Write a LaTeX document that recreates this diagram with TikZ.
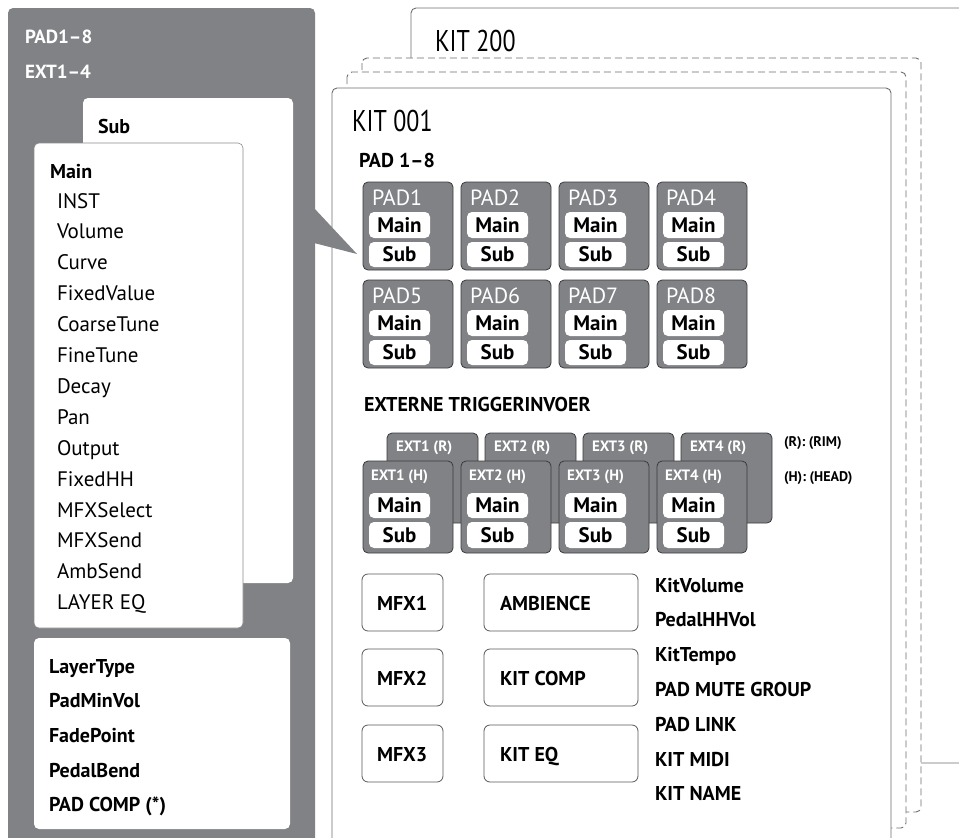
\documentclass[tikz,border=0pt]{standalone}
\usepackage{fontspec}
\setmainfont{PT Sans}
\usetikzlibrary{positioning}
\definecolor{panelgray}{HTML}{808285}
\definecolor{edgegray}{HTML}{6D6E71}
\definecolor{padedge}{HTML}{3A3A3C}
\newcommand{\fsz}[1]{\fontsize{#1}{#1}\selectfont}

\begin{document}
\begin{tikzpicture}[x=1pt,y=-1pt,
	every node/.style={inner sep=0pt,outer sep=0pt},
	kitbox/.style={draw=edgegray,fill=white,line width=0.9pt,rounded corners=5pt},
	kitdash/.style={kitbox,dash pattern=on 7pt off 4pt},
	padbox/.style={draw=padedge,fill=panelgray,line width=0.8pt,rounded corners=5pt},
	pill/.style={fill=white,rounded corners=5pt},
	fxbox/.style={draw=black!65,fill=white,line width=0.8pt,rounded corners=6pt},
	padlbl/.style={anchor=base west,text=white,font=\fsz{22}},
	extlbl/.style={anchor=base west,text=white,font=\fsz{15}\bfseries},
	pilllbl/.style={font=\fsz{21}\bfseries},
	item/.style={anchor=base west,font=\fsz{21}},
	bitem/.style={anchor=base west,font=\fsz{20}\bfseries},
]
\useasboundingbox (0,0) rectangle (959,838);
\clip (0,0) rectangle (959,838);

% kit pages, back to front
\filldraw[kitbox] (411,8) rectangle (1000,763);
\node[anchor=base west,font=\fsz{30}] (kit200) at (435,51) {\scalebox{0.8}[1]{KIT 200}};
\filldraw[kitdash] (362,58) rectangle (921,812);
\filldraw[kitdash] (347,72) rectangle (906,828);
\filldraw[kitbox] (332,88) rectangle (891,860);
\node[anchor=base west,font=\fsz{30}] (kit001) at (352,131) {\scalebox{0.8}[1]{KIT 001}};

% left panel with pointer
\fill[panelgray,rounded corners=5pt] (8,8) rectangle (315,860);
\fill[panelgray] (314,208) -- (357,254) -- (314,243) -- cycle;
\node[anchor=base west,text=white,font=\fsz{19}\bfseries] (padall) at (25,43) {PAD1--8};
\node[anchor=base west,text=white,font=\fsz{19}\bfseries] (extall) at (25,78) {EXT1--4};

\fill[white,rounded corners=5pt] (83,98) rectangle (293,583);
\node[bitem] (subhead) at (98,133) {Sub};
\filldraw[fill=white,draw=black!45,line width=0.6pt,rounded corners=5pt] (34,143) rectangle (243,628);
\node[bitem] (mainhead) at (50,178) {Main};
\foreach \t [count=\n from 0] in {INST,Volume,Curve,FixedValue,CoarseTune,FineTune,Decay,Pan,Output,FixedHH,MFXSelect,MFXSend,AmbSend,LAYER EQ}
	\node[item] (main\n) at (57,208+30.9*\n) {\t};

\fill[white,rounded corners=5pt] (34,638) rectangle (290,829);
\foreach \t [count=\n from 0] in {LayerType,PadMinVol,FadePoint,PedalBend,PAD COMP (*)}
	\node[bitem] (common\n) at (49,673+34.7*\n) {\t};

% pads
\node[bitem] (padtitle) at (359,167) {PAD 1--8};
\foreach \i in {1,...,8}{
	\pgfmathtruncatemacro\col{mod(\i-1,4)}
	\pgfmathtruncatemacro\row{(\i-1)/4}
	\coordinate (p\i) at (363+98*\col,182+98*\row);
	\filldraw[padbox] (p\i) rectangle ++(90,88);
	\node[padlbl] (pad\i) at ([shift={(9,23)}]p\i) {PAD\i};
	\fill[pill] ([shift={(6,30)}]p\i) rectangle ([shift={(67,56)}]p\i);
	\node[pilllbl] (pad\i main) at ([shift={(36.5,43)}]p\i) {Main};
	\fill[pill] ([shift={(6,60)}]p\i) rectangle ([shift={(67,85)}]p\i);
	\node[pilllbl] (pad\i sub) at ([shift={(36.5,72.5)}]p\i) {Sub};
}

% external triggers
\node[bitem] (exttitle) at (364,411) {EXTERNE TRIGGERINVOER};
\foreach \k in {1,...,4}{
	\coordinate (r\k) at (387+98*\k-98,433);
	\filldraw[padbox] (r\k) rectangle ++(91,90);
	\node[extlbl] (ext\k rim) at ([shift={(9,18)}]r\k) {EXT\k\ (R)};
}
\foreach \k in {1,...,4}{
	\coordinate (h\k) at (363+98*\k-98,461);
	\filldraw[padbox] (h\k) rectangle ++(90,92);
	\node[extlbl] (ext\k head) at ([shift={(8,19)}]h\k) {EXT\k\ (H)};
	\fill[pill] ([shift={(6,32)}]h\k) rectangle ([shift={(67,57)}]h\k);
	\node[pilllbl] (ext\k main) at ([shift={(36.5,44.5)}]h\k) {Main};
	\fill[pill] ([shift={(6,61)}]h\k) rectangle ([shift={(67,87)}]h\k);
	\node[pilllbl] (ext\k sub) at ([shift={(36.5,74)}]h\k) {Sub};
}
\node[anchor=base west,font=\fsz{14}\bfseries] (rimnote) at (784,446) {(R): (RIM)};
\node[anchor=base west,font=\fsz{14}\bfseries] (headnote) at (784,481) {(H): (HEAD)};

% effects and kit settings
\foreach \t/\y [count=\n] in {MFX1/574,MFX2/649,MFX3/725}{
	\filldraw[fxbox] (362,\y) rectangle (443,\y+57);
	\node[bitem] (mfx\n) at (377,\y+36) {\t};
}
\foreach \t/\y [count=\n] in {AMBIENCE/574,KIT COMP/649,KIT EQ/725}{
	\filldraw[fxbox] (484,\y) rectangle (638,\y+57);
	\node[bitem] (fx\n) at (500,\y+36) {\t};
}
\foreach \t [count=\n from 0] in {KitVolume,PedalHHVol,KitTempo,PAD MUTE GROUP,PAD LINK,KIT MIDI,KIT NAME}
	\node[bitem] (kitset\n) at (655,592+34.8*\n) {\t};
\end{tikzpicture}
\end{document}
